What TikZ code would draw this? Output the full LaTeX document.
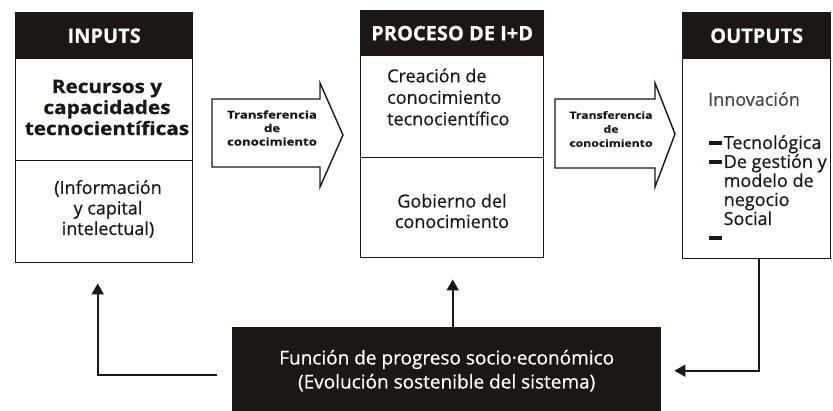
\documentclass[tikz,border=0pt]{standalone}
\usepackage{fontspec}
\setmainfont{Open Sans}[FakeBold=0.45]
\newfontfamily\widefont{Open Sans}[FakeStretch=1.22,FakeBold=0.3]
\newfontfamily\boldwide{Open Sans}[FakeStretch=1.12,FakeBold=0.7]
\usetikzlibrary{arrows.meta,calc}
\definecolor{ink}{HTML}{1C1713}
\newcommand{\obul}{\makebox[14.5pt][l]{\rule[0.22em]{13pt}{4.2pt}}}
\newcommand{\oind}{\hspace*{14.5pt}}
\begin{document}
\begin{tikzpicture}[x=1pt,y=-1pt,
  box/.style={draw=ink,line width=1.4pt,fill=white,inner sep=0pt,anchor=north west},
  head/.style={box,fill=ink,text=white,font=\fontsize{20}{24}\selectfont\bfseries},
  btext/.style={align=center,inner sep=0pt,text=ink},
  bold/.style={btext,font=\boldwide\fontsize{18.5}{21}\selectfont\bfseries},
  reg/.style={btext,font=\fontsize{18}{20.5}\selectfont},
  atext/.style={align=center,inner sep=0pt,text=ink,font=\widefont\fontsize{10.8}{13.5}\selectfont\bfseries},
  blockarrow/.style={draw=ink,line width=1.4pt,fill=white,line join=miter},
  conn/.style={draw=ink,line width=1.8pt,-{Triangle[width=12pt,length=11pt]}}
]
\useasboundingbox (0,0) rectangle (833,411);

% INPUTS
\node[head,minimum width=177pt,minimum height=46pt] (ih) at (15,12) {INPUTS};
\node[box,minimum width=177pt,minimum height=102pt] (ib1) at (15,58) {};
\node[box,minimum width=177pt,minimum height=102pt] (ib2) at (15,160) {};
\node[bold] (it1) at (107,107.5) {Recursos y\\capacidades\\tecnocientíficas};
\node[reg] (it2) at (108,209) {(Información\\y capital\\intelectual)};

% PROCESO
\node[head,minimum width=183pt,minimum height=45pt] (ph) at (360,10) {PROCESO DE I+D};
\node[box,minimum width=183pt,minimum height=102pt] (pb1) at (360,55) {};
\node[box,minimum width=183pt,minimum height=100pt] (pb2) at (360,157) {};
\node[reg,align=left,anchor=west,font=\fontsize{18}{21.5}\selectfont] (pt1) at (387,97) {Creación de\\conocimiento\\tecnocientífico};
\node[reg] (pt2) at (452,211) {Gobierno del\\conocimiento};

% OUTPUTS
\node[head,minimum width=148pt,minimum height=46pt] (oh) at (682,12) {OUTPUTS};
\node[box,minimum width=148pt,minimum height=200pt] (ob) at (682,58) {};
\node[reg,align=left,anchor=west,text=ink!80] (ot1) at (708,99) {Innovación};
\node[reg,align=left,anchor=north west,font=\fontsize{18}{19}\selectfont] (ot2) at (709,135)
  {\obul Tecnológica\\\obul De gestión y\\\oind modelo de\\\oind negocio\\\oind Social\\\obul};

% transfer arrows
\draw[blockarrow] (212,99) -- (320,99) -- (320,83) -- (343,135) -- (320,187) -- (320,167) -- (212,167) -- cycle;
\node[atext] (a1) at (272,128) {Transferencia\\de\\conocimiento};
\draw[blockarrow] (555,99) -- (655,99) -- (655,83) -- (675,134) -- (655,187) -- (655,168) -- (555,168) -- cycle;
\node[atext,font=\widefont\fontsize{10}{14}\selectfont\bfseries] (a2) at (611,129) {Transferencia\\de\\conocimiento};

% bottom box
\node[box,fill=ink,text=white,minimum width=428pt,minimum height=86pt,align=center,
  font=\fontsize{19}{24}\selectfont] (fn) at (232,327)
  {Función de progreso socio·económico\\(Evolución sostenible del sistema)};

% connectors
\coordinate (inarrow) at ($(ib2.south)+(-6.5,20)$);
\coordinate (pcarrow) at ($(pb2.south)+(0.5,21)$);
\draw[conn,shorten <=15pt] ([yshift=-4pt]fn.west) -| (inarrow);
\draw[conn] (fn.north -| pcarrow) -- (pcarrow);
\draw[conn,shorten >=13pt] ([xshift=2pt]ob.south) |- (fn.east);
\end{tikzpicture}
\end{document}
